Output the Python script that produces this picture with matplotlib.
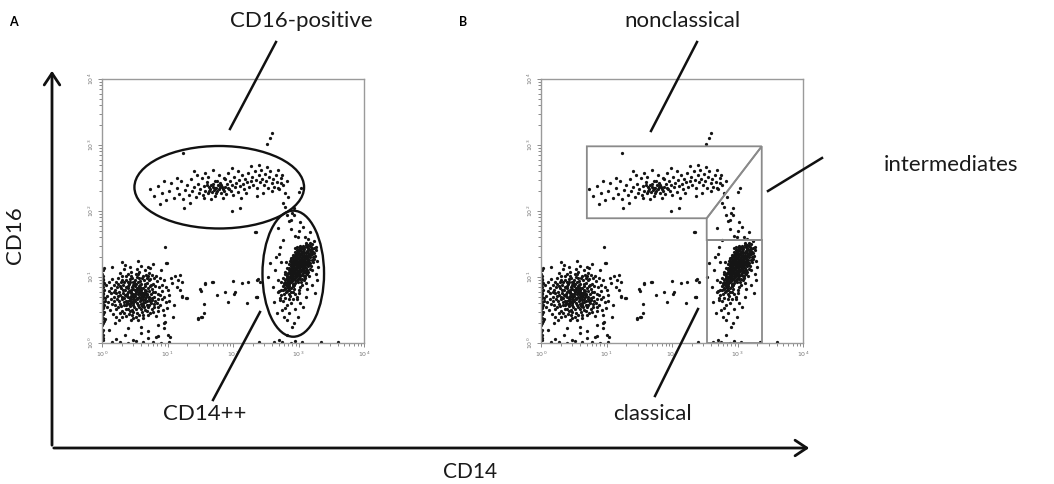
import numpy as np
import matplotlib.pyplot as plt
from matplotlib.patches import Ellipse, Polygon, FancyArrowPatch
from matplotlib.lines import Line2D

plt.rcParams['font.family'] = ['Lato', 'DejaVu Sans']

# ---------------------------------------------------------------------
# Event data, in log10 fluorescence units
# (x = CD14, y = CD16). Both panels show the same acquisition.
# ---------------------------------------------------------------------
lymphocytes = [
    (0.52, 0.78), (0.61, 0.72), (0.44, 0.81), (0.58, 0.88), (0.49, 0.66), (0.67, 0.79), (0.38, 0.74), (0.55, 0.93),
    (0.63, 0.61), (0.41, 0.90), (0.72, 0.70), (0.33, 0.62), (0.57, 0.55), (0.46, 0.99), (0.69, 0.91), (0.29, 0.83),
    (0.77, 0.82), (0.51, 0.71), (0.36, 0.52), (0.62, 1.02), (0.24, 0.71), (0.81, 0.64), (0.47, 0.58), (0.54, 0.84),
    (0.65, 0.67), (0.42, 0.68), (0.59, 0.77), (0.31, 0.95), (0.74, 0.97), (0.48, 0.47), (0.86, 0.75), (0.20, 0.58),
    (0.66, 0.50), (0.39, 1.05), (0.56, 1.08), (0.27, 0.45), (0.79, 0.55), (0.45, 0.76), (0.60, 0.83), (0.35, 0.80),
    (0.92, 0.88), (0.18, 0.88), (0.70, 0.43), (0.52, 0.39), (0.43, 0.56), (0.64, 0.95), (0.25, 0.99), (0.83, 1.01),
    (0.50, 0.86), (0.58, 0.64), (0.14, 0.67), (0.37, 0.41), (0.75, 0.74), (0.53, 1.12), (0.30, 0.70), (0.68, 0.58),
    (0.95, 0.69), (0.40, 0.63), (0.62, 0.76), (0.47, 0.92), (0.22, 0.51), (0.85, 0.48), (0.56, 0.70), (0.33, 1.12),
    (0.72, 1.06), (0.44, 0.35), (0.10, 0.79), (0.66, 0.86), (0.49, 0.54), (0.78, 0.90), (0.28, 0.59), (0.61, 0.47),
    (0.39, 0.86), (0.54, 0.61), (0.89, 0.58), (0.16, 0.97), (0.73, 0.63), (0.46, 0.73), (0.57, 0.98), (0.34, 0.68),
    (1.00, 0.80), (0.12, 0.50), (0.63, 0.38), (0.42, 1.15), (0.80, 0.69), (0.26, 0.78), (0.51, 0.63), (0.69, 0.75),
    (0.37, 0.96), (0.59, 0.52), (0.94, 0.95), (0.21, 0.40), (0.48, 0.82), (0.76, 0.52), (0.32, 0.88), (0.65, 1.11),
    (0.43, 0.48), (0.55, 0.74), (0.87, 0.85), (0.19, 0.69), (0.70, 0.84), (0.36, 0.58), (0.60, 0.90), (0.45, 1.02),
    (0.82, 0.41), (0.28, 1.06), (0.53, 0.45), (0.67, 0.69), (0.40, 0.77), (0.97, 0.62), (0.15, 0.59), (0.74, 1.13),
    (0.50, 0.95), (0.31, 0.49), (0.62, 0.65), (0.88, 0.98), (0.23, 0.85), (0.57, 0.80), (0.44, 0.62), (0.78, 0.77),
    (0.35, 1.18), (0.64, 0.55), (1.03, 0.72), (0.48, 0.70), (0.26, 0.64), (0.71, 0.96), (0.55, 0.35), (0.38, 0.71),
    (0.84, 0.61), (0.60, 1.16), (0.09, 0.62), (0.46, 0.85), (0.68, 0.48), (0.32, 0.76), (0.58, 0.68), (0.91, 0.79),
    (0.41, 0.44), (0.75, 0.88), (0.19, 0.77), (0.52, 1.04), (0.65, 0.78), (0.29, 0.92), (0.80, 0.99), (0.43, 0.59),
    (0.56, 0.87), (0.99, 0.53), (0.24, 0.54), (0.71, 0.66), (0.47, 0.38), (0.37, 1.01),
    (0.50, 0.80), (0.56, 0.77), (0.45, 0.71), (0.60, 0.70), (0.53, 0.68), (0.47, 0.88), (0.63, 0.84), (0.40, 0.83),
    (0.58, 0.94), (0.35, 0.73), (0.68, 0.73), (0.43, 0.65), (0.55, 0.58), (0.49, 0.92), (0.66, 0.62), (0.31, 0.66),
    (0.73, 0.86), (0.52, 0.52), (0.38, 0.60), (0.61, 0.99), (0.27, 0.87), (0.77, 0.68), (0.44, 1.07), (0.59, 0.59),
    (0.34, 0.93), (0.70, 0.54), (0.48, 0.75), (0.64, 0.72), (0.41, 0.79), (0.57, 0.84), (0.22, 0.76), (0.81, 0.78),
    (0.46, 0.50), (0.54, 1.00), (0.36, 0.85), (0.69, 0.98), (0.29, 0.56), (0.75, 0.60), (0.51, 0.89), (0.62, 0.58),
    (0.39, 0.69), (0.47, 0.64), (0.58, 0.74), (0.53, 0.81), (0.44, 0.77), (0.66, 0.80), (0.32, 0.80), (0.60, 0.66),
    (0.42, 0.97), (0.71, 0.79),
    (0.13, 0.83), (0.17, 0.44), (0.21, 0.93), (0.26, 0.35), (0.30, 1.01), (0.34, 0.46), (0.39, 0.52), (0.43, 0.92),
    (0.48, 0.60), (0.52, 0.90), (0.57, 0.43), (0.61, 0.56), (0.65, 0.89), (0.69, 0.64), (0.73, 0.45), (0.77, 1.03),
    (0.81, 0.86), (0.85, 0.67), (0.89, 0.72), (0.93, 0.50), (0.18, 0.63), (0.23, 0.66), (0.27, 0.72), (0.33, 0.57),
    (0.37, 0.64), (0.41, 0.59), (0.45, 0.67), (0.50, 0.74), (0.54, 0.66), (0.59, 0.81), (0.63, 0.69), (0.67, 0.74),
    (0.71, 0.58), (0.76, 0.65), (0.80, 0.59), (0.84, 0.94), (0.14, 0.76), (0.20, 0.81), (0.25, 0.90), (0.39, 0.93),
    (0.55, 1.05), (0.70, 1.01), (0.86, 0.54), (0.30, 0.39), (0.46, 0.42), (0.62, 0.42), (0.78, 0.47), (0.07, 0.71),
    (0.06, 0.88), (0.08, 0.55), (0.11, 0.92), (0.05, 0.64), (0.91, 0.66), (0.97, 0.85), (1.02, 0.64), (0.94, 0.42),
    (0.98, 1.21), (1.11, 1.02), (1.16, 0.95), (1.07, 0.91), (1.19, 0.80), (1.28, 0.68), (1.50, 0.82), (1.57, 0.89),
    (1.47, 0.38), (1.51, 0.39), (1.56, 0.45), (0.96, 0.32), (1.04, 0.09), (0.82, 0.09), (0.70, 1.15), (0.67, 1.03),
    (1.10, 0.58), (1.15, 0.85), (1.08, 0.40), (0.95, 0.30), (0.85, 0.28), (1.22, 0.70), (0.60, 0.25), (0.40, 0.22),
    (0.20, 0.30), (0.70, 0.18), (1.05, 0.98), (0.90, 1.10), (0.55, 1.25), (0.30, 1.22), (0.15, 1.15), (0.78, 1.20),
    (0.96, 1.45), (0.99, 1.21), (1.19, 1.03),
]

axis_pile = [
    (0.01, 0.12), (0.02, 0.20), (0.00, 0.27), (0.03, 0.33), (0.01, 0.38), (0.02, 0.44), (0.00, 0.49), (0.01, 0.53),
    (0.03, 0.58), (0.02, 0.62), (0.00, 0.66), (0.01, 0.70), (0.02, 0.74), (0.00, 0.78), (0.03, 0.81), (0.01, 0.85),
    (0.02, 0.89), (0.00, 0.93), (0.01, 0.97), (0.02, 1.01), (0.00, 1.05), (0.01, 1.10), (0.03, 0.47), (0.04, 0.68),
    (0.02, 0.55), (0.00, 0.16), (0.01, 0.04), (0.03, 0.91), (0.04, 0.36), (0.02, 0.08), (0.00, 0.60), (0.01, 0.76),
    (0.03, 1.14), (0.00, 0.42), (0.02, 0.95), (0.01, 0.30),
    (0.15, 0.01), (0.28, 0.02), (0.40, 0.00), (0.52, 0.03), (0.63, 0.01), (0.78, 0.02), (0.90, 0.00), (1.02, 0.02),
    (0.22, 0.06), (0.47, 0.05), (0.70, 0.07), (0.85, 0.10), (0.35, 0.12), (0.60, 0.15), (1.00, 0.12), (2.62, 0.01),
    (2.75, 0.02), (2.88, 0.00), (2.95, 0.03), (3.05, 0.01), (2.70, 0.04), (3.35, 0.01), (3.60, 0.02), (2.40, 0.01),
    (0.10, 0.20), (0.95, 0.22),
]

monocytes = [
    (2.95, 1.10), (3.02, 1.18), (2.90, 1.02), (3.07, 1.26), (2.98, 1.05), (2.87, 0.93), (3.11, 1.34), (2.93, 1.15),
    (3.04, 1.09), (2.84, 0.86), (3.14, 1.41), (2.99, 1.22), (2.91, 0.97), (3.08, 1.17), (2.96, 1.29), (2.82, 0.79),
    (3.17, 1.47), (3.03, 1.01), (2.94, 1.07), (3.10, 1.24), (2.88, 1.12), (3.01, 1.31), (2.86, 0.99), (3.12, 1.19),
    (2.97, 0.94), (3.05, 1.37), (2.92, 1.21), (2.80, 0.91), (3.19, 1.39), (3.00, 1.13), (2.89, 0.83), (3.06, 1.44),
    (2.95, 1.26), (3.13, 1.28), (2.83, 1.04), (3.02, 0.97), (2.93, 0.88), (3.09, 1.11), (2.98, 1.35), (2.85, 0.74),
    (3.16, 1.33), (3.04, 1.23), (2.90, 1.16), (3.11, 1.49), (2.96, 1.00), (2.79, 0.84), (3.07, 1.06), (2.94, 1.32),
    (3.15, 1.22), (3.00, 1.27), (2.87, 1.08), (3.03, 1.42), (2.91, 0.90), (3.18, 1.30), (2.97, 1.17), (2.81, 0.97),
    (3.09, 1.36), (2.99, 0.92), (3.06, 1.15), (2.92, 1.25), (2.86, 0.80), (3.13, 1.45), (3.01, 1.05), (2.95, 1.38),
    (3.10, 1.02), (2.89, 1.19), (3.05, 1.30), (2.84, 0.95), (3.20, 1.43), (2.98, 1.10), (2.93, 0.82), (3.08, 1.21),
    (2.90, 1.07), (3.14, 1.36), (3.02, 1.24), (2.78, 0.88), (2.97, 1.41), (3.12, 1.14), (2.88, 0.96), (3.04, 1.16),
    (2.94, 1.01), (3.16, 1.26), (2.99, 1.29), (2.85, 1.13), (3.07, 1.40), (2.92, 0.86), (3.11, 1.08), (3.00, 1.20),
    (2.83, 0.90), (3.18, 1.51), (2.96, 1.12), (3.05, 1.03), (2.89, 1.27), (3.13, 1.32), (2.81, 0.77), (3.02, 1.35),
    (2.95, 0.98), (3.09, 1.27), (2.91, 1.11), (3.15, 1.44), (2.87, 1.02), (3.03, 1.12), (2.98, 1.46), (3.10, 1.18),
    (2.82, 0.93), (3.06, 1.33), (2.93, 1.06), (3.17, 1.37), (3.00, 0.99), (2.90, 1.23), (2.96, 1.19), (3.12, 1.52),
    (2.86, 0.89), (3.04, 1.28), (2.94, 1.14), (3.08, 1.09), (2.80, 0.82), (3.01, 1.39), (2.97, 1.03), (3.14, 1.25),
    (2.88, 0.92), (3.06, 1.22), (2.92, 1.30), (3.19, 1.46), (2.99, 1.08), (2.84, 1.00), (3.11, 1.29), (2.95, 1.23),
    (3.03, 1.47), (2.91, 1.04), (2.77, 0.80), (3.16, 1.18), (2.98, 1.16), (3.07, 1.13), (2.89, 1.10), (3.13, 1.39),
    (3.00, 1.33), (2.85, 0.87), (3.09, 1.43), (2.94, 0.95), (3.05, 1.20), (2.90, 0.94), (3.21, 1.35), (2.97, 1.25),
    (2.83, 0.98), (3.10, 1.31), (3.02, 1.07), (2.93, 1.18), (3.15, 1.48), (2.88, 1.05),
    (2.96, 1.14), (3.01, 1.09), (2.91, 1.08), (3.06, 1.25), (2.97, 1.21), (2.89, 1.00), (3.09, 1.32), (2.94, 1.19),
    (3.03, 1.20), (2.86, 0.92), (3.12, 1.38), (3.00, 1.16), (2.92, 0.99), (3.07, 1.19), (2.97, 1.31), (2.84, 0.83),
    (3.15, 1.42), (3.02, 1.03), (2.95, 1.04), (3.08, 1.28), (2.90, 1.13), (3.03, 1.34), (2.88, 1.03), (3.11, 1.23),
    (2.99, 0.97), (3.04, 1.39), (2.93, 1.24), (2.83, 0.88), (3.17, 1.41), (3.01, 1.15), (2.91, 0.86), (3.07, 1.47),
    (2.96, 1.28), (3.12, 1.30), (2.86, 1.06), (3.00, 1.02), (2.94, 0.91), (3.10, 1.15), (2.99, 1.37), (2.88, 0.78),
    (3.14, 1.31), (3.05, 1.26), (2.92, 1.17), (3.09, 1.45), (2.97, 1.06), (2.82, 0.87), (3.05, 1.10), (2.95, 1.34),
    (3.13, 1.20), (3.01, 1.25),
    (2.74, 0.81), (2.70, 0.79), (2.76, 0.86), (2.78, 0.91), (2.73, 0.93), (2.80, 0.96), (2.76, 0.99), (2.82, 1.01),
    (2.79, 1.04), (2.86, 0.98), (2.84, 1.06), (2.80, 1.08), (2.86, 1.11), (2.83, 1.14), (2.89, 1.09), (2.88, 1.16),
    (2.85, 1.19), (2.90, 1.21), (2.87, 1.24), (2.93, 1.20), (2.92, 1.27), (2.89, 1.29), (2.95, 1.31), (2.91, 1.34),
    (2.97, 1.36), (2.99, 1.40), (3.00, 1.43), (3.02, 1.46), (2.94, 1.44), (2.81, 1.22),
    (3.00, 0.81), (3.02, 0.85), (3.06, 0.88), (3.04, 0.92), (3.08, 0.95), (3.06, 0.97), (3.10, 0.99), (3.08, 1.01),
    (3.13, 1.04), (3.11, 1.06), (3.15, 1.07), (3.13, 1.11), (3.17, 1.12), (3.20, 1.10), (3.15, 1.16), (3.19, 1.17),
    (3.17, 1.21), (3.22, 1.22), (3.20, 1.26), (3.24, 1.27), (3.22, 1.31), (3.25, 1.32), (3.24, 1.37), (3.26, 1.41),
    (3.27, 1.46), (3.21, 1.50), (3.23, 1.44), (3.18, 1.34), (3.12, 0.91), (3.16, 1.02),
    (2.80, 0.68), (2.87, 0.71), (2.76, 0.63), (2.91, 0.66), (2.83, 0.58), (2.74, 0.72), (2.95, 0.75), (2.79, 0.53),
    (2.88, 0.61), (2.85, 0.66), (2.97, 0.70), (2.72, 0.68), (2.92, 0.78), (2.78, 0.75), (3.00, 0.76),
]

monocyte_halo = [
    (2.76, 2.12), (2.82, 1.94), (2.90, 1.97), (3.02, 1.83), (3.07, 1.76), (3.18, 1.68), (2.76, 1.56), (2.56, 1.21),
    (2.53, 1.00), (2.61, 0.85), (2.72, 0.65), (2.67, 0.45), (2.82, 0.35), (2.90, 0.24), (2.99, 0.39), (3.07, 0.55),
    (3.25, 0.76), (3.28, 0.95), (3.30, 1.15), (3.22, 1.38), (2.82, 0.12), (2.37, 0.95), (2.37, 0.70), (2.95, 1.62),
    (3.10, 1.60), (2.88, 1.72), (3.24, 1.55), (2.70, 1.35), (2.64, 1.10), (2.68, 0.95), (2.73, 1.22), (2.69, 0.78),
    (2.75, 0.50), (2.86, 0.45), (2.95, 0.52), (3.02, 0.60), (3.12, 0.70), (3.20, 0.88), (3.26, 1.05), (2.78, 0.40),
    (2.93, 0.31), (2.63, 0.62), (3.00, 1.70), (2.85, 1.85), (3.15, 1.58), (2.98, 0.66), (3.13, 0.82), (2.72, 1.45),
    (2.66, 1.30), (3.28, 1.25),
    (3.04, 2.35), (2.84, 2.21), (2.93, 1.94), (2.89, 1.86), (2.69, 1.74), (2.99, 1.61), (2.79, 2.06), (2.93, 2.04),
    (3.01, 2.29), (2.35, 1.68), (2.73, 2.42), (2.69, 2.35),
]

cd16_positive = [
    (0.74, 2.33), (0.79, 2.22), (0.85, 2.38), (0.92, 2.27), (0.97, 2.16), (1.02, 2.31), (1.06, 2.42), (1.10, 2.20),
    (1.14, 2.35), (1.18, 2.26), (1.21, 2.45), (1.24, 2.18), (1.27, 2.32), (1.30, 2.39), (1.33, 2.24), (1.36, 2.48),
    (1.38, 2.30), (1.41, 2.36), (1.43, 2.21), (1.46, 2.41), (1.48, 2.28), (1.50, 2.34), (1.52, 2.50), (1.54, 2.25),
    (1.56, 2.38), (1.58, 2.31), (1.60, 2.44), (1.62, 2.27), (1.63, 2.36), (1.65, 2.33), (1.67, 2.40), (1.68, 2.29),
    (1.70, 2.37), (1.71, 2.32), (1.73, 2.46), (1.74, 2.35), (1.76, 2.30), (1.77, 2.39), (1.79, 2.34), (1.80, 2.42),
    (1.82, 2.28), (1.83, 2.37), (1.85, 2.33), (1.86, 2.50), (1.88, 2.36), (1.90, 2.26), (1.91, 2.41), (1.93, 2.35),
    (1.95, 2.45), (1.97, 2.31), (1.99, 2.39), (2.01, 2.52), (2.03, 2.36), (2.05, 2.43), (2.07, 2.29), (2.09, 2.47),
    (2.11, 2.38), (2.13, 2.55), (2.15, 2.41), (2.17, 2.33), (2.19, 2.49), (2.21, 2.44), (2.23, 2.58), (2.25, 2.37),
    (2.27, 2.46), (2.29, 2.52), (2.31, 2.40), (2.33, 2.60), (2.35, 2.47), (2.37, 2.35), (2.39, 2.54), (2.41, 2.44),
    (2.43, 2.62), (2.45, 2.49), (2.47, 2.39), (2.49, 2.56), (2.51, 2.45), (2.53, 2.35), (2.55, 2.51), (2.57, 2.60),
    (2.59, 2.42), (2.61, 2.48), (2.63, 2.37), (2.65, 2.55), (2.67, 2.44), (2.70, 2.33), (2.73, 2.50), (2.76, 2.40),
    (2.79, 2.28), (2.82, 2.46),
    (1.55, 2.20), (1.62, 2.52), (1.72, 2.22), (1.78, 2.55), (1.84, 2.19), (1.92, 2.57), (1.66, 2.18), (1.58, 2.58),
    (2.00, 2.24), (2.08, 2.60), (1.45, 2.55), (1.35, 2.12), (1.15, 2.50), (0.95, 2.45), (0.88, 2.10), (1.25, 2.05),
    (2.20, 2.28), (2.28, 2.68), (2.40, 2.70), (2.52, 2.66), (2.60, 2.30), (2.68, 2.62), (2.75, 2.55), (2.46, 2.27),
    (2.36, 2.22), (1.98, 2.65), (1.70, 2.62), (1.40, 2.60), (2.12, 2.20), (1.88, 2.48), (1.76, 2.45), (1.82, 2.40),
    (1.74, 2.28), (1.69, 2.41), (1.64, 2.30), (1.86, 2.30), (1.94, 2.33), (1.61, 2.39), (1.80, 2.36), (1.72, 2.35),
    (2.52, 3.02), (2.56, 3.10), (2.60, 3.18), (1.24, 2.88), (1.98, 2.00), (2.10, 2.05),
]

sparse_events = [
    (1.22, 0.92), (1.57, 0.91), (1.68, 0.92), (1.70, 0.92), (2.00, 0.94), (2.14, 0.91), (2.23, 0.92), (2.38, 0.97),
    (2.41, 0.92), (1.51, 0.79), (1.22, 0.71), (1.30, 0.68), (1.76, 0.73), (1.88, 0.77), (2.03, 0.77), (2.02, 0.75),
    (1.92, 0.62), (1.56, 0.59), (2.21, 0.61), (2.35, 0.70), (1.47, 0.36), (1.53, 0.39), (2.34, 1.68), (2.37, 0.70),
]

# gates (log10 units)
ellipse_cd16 = dict(center=(1.79, 2.36), width=2.59, height=1.25)
ellipse_cd14 = dict(center=(2.92, 1.05), width=0.94, height=1.91)
gate_nonclassical = [(0.70, 2.98), (3.37, 2.98), (2.53, 1.89), (0.70, 1.89)]
gate_intermediate = [(2.53, 1.89), (3.37, 2.98), (3.37, 1.56), (2.53, 1.56)]
gate_classical = [(2.53, 1.56), (3.37, 1.56), (3.37, 0.0), (2.53, 0.0)]

decades = [0, 1, 2, 3, 4]
decade_labels = [r'$10^{%d}$' % d for d in decades]

events = np.array(lymphocytes + axis_pile + monocytes + monocyte_halo + cd16_positive + sparse_events)

# ---------------------------------------------------------------------
W, H = 1054, 484
fig = plt.figure(figsize=(W / 100, H / 100), dpi=100)


def px_axes(x0, y0, x1, y1):
    return fig.add_axes([x0 / W, 1 - y1 / H, (x1 - x0) / W, (y1 - y0) / H])


def px(x, y):
    return x / W, 1 - y / H


def dot_plot(ax):
    ax.scatter(events[:, 0], events[:, 1], s=5.5, c='#151515', linewidths=0, zorder=2)
    ax.set_xlim(0, 4)
    ax.set_ylim(0, 4)
    minor = [d + np.log10(m) for d in decades[:-1] for m in range(2, 10)]
    for axis in (ax.xaxis, ax.yaxis):
        axis.set_ticks(decades)
        axis.set_ticks(minor, minor=True)
    ax.set_xticklabels(decade_labels)
    ax.set_yticklabels(decade_labels, rotation=90, va='center')
    ax.tick_params(which='both', direction='out', color='#8a8a8a', labelcolor='#777777',
                   labelsize=4.5, width=0.7, pad=1.5)
    ax.tick_params(which='major', length=3)
    ax.tick_params(which='minor', length=2)
    for s in ax.spines.values():
        s.set_color('#9a9a9a')
        s.set_linewidth(1.0)


axA = px_axes(102, 79, 364, 343)
dot_plot(axA)
for g in (ellipse_cd16, ellipse_cd14):
    axA.add_patch(Ellipse(g['center'], g['width'], g['height'], fill=False,
                          ec='#111111', lw=1.7, zorder=3))

axB = px_axes(541, 79, 803, 343)
dot_plot(axB)
for g in (gate_nonclassical, gate_intermediate, gate_classical):
    axB.add_patch(Polygon(g, closed=True, fill=False, ec='#8a8a8a', lw=1.3, zorder=3))

# pointer lines
pointers = [
    ((230, 129), (276, 42)),
    ((260, 312), (213, 400)),
    ((651, 131), (697, 42)),
    ((768, 191), (822, 158)),
    ((698, 309), (655, 396)),
]
for (x0, y0), (x1, y1) in pointers:
    a, b = px(x0, y0), px(x1, y1)
    fig.add_artist(Line2D([a[0], b[0]], [a[1], b[1]], transform=fig.transFigure,
                          color='#111111', lw=1.8))

# big CD14 / CD16 arrows
arrow_kw = dict(transform=fig.transFigure, arrowstyle='->,head_length=0.6,head_width=0.4',
                mutation_scale=14, lw=2, color='#111111')
fig.add_artist(FancyArrowPatch(px(52, 448), px(52, 68), **arrow_kw))
fig.add_artist(FancyArrowPatch(px(51, 448), px(812, 448), **arrow_kw))

label_kw = dict(fontsize=16, color='#1a1a1a', ha='center', va='center')
fig.text(*px(301, 21), 'CD16-positive', **label_kw)
fig.text(*px(205, 414), 'CD14++', **label_kw)
fig.text(*px(682, 21), 'nonclassical', **label_kw)
fig.text(*px(951, 165), 'intermediates', **label_kw)
fig.text(*px(652, 414), 'classical', **label_kw)
fig.text(*px(15, 235), 'CD16', rotation=90, **label_kw)
fig.text(*px(470, 482), 'CD14', fontsize=15, color='#1a1a1a', ha='center', va='bottom')
fig.text(*px(13, 22), 'A', fontsize=9, fontweight='bold', ha='center', va='center')
fig.text(*px(463, 22), 'B', fontsize=9, fontweight='bold', ha='center', va='center')

fig.savefig('out.png', dpi=100)
